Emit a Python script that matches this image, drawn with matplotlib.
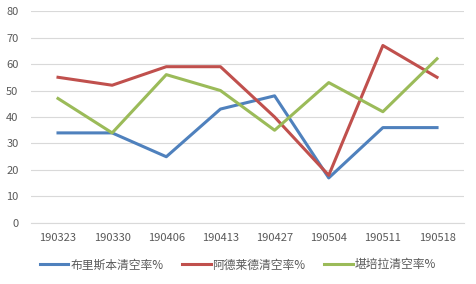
import matplotlib
matplotlib.use("Agg")
import matplotlib.pyplot as plt

plt.rcParams['font.family'] = ['Noto Sans CJK SC', 'DejaVu Sans']

categories = ["190323", "190330", "190406", "190413", "190427", "190504", "190511", "190518"]
brisbane = [34, 34, 25, 43, 48, 17, 36, 36]
adelaide = [55, 52, 59, 59, 40, 18, 67, 55]
canberra = [47, 34, 56, 50, 35, 53, 42, 62]
series_names = ["布里斯本清空率%", "阿德莱德清空率%", "堪培拉清空率%"]
colors = ["#4F81BD", "#C0504D", "#9BBB59"]

fig = plt.figure(figsize=(4.76, 2.84), dpi=100)
ax = fig.add_axes([0.065, 0.215, 0.91, 0.746])

x = list(range(len(categories)))
for vals, name, c in zip([brisbane, adelaide, canberra], series_names, colors):
    ax.plot(x, vals, color=c, linewidth=2.2, label=name, solid_joinstyle='round')

ax.set_xlim(-0.5, len(categories) - 0.5)
ax.set_ylim(0, 80)
ax.set_yticks(range(0, 81, 10))
ax.set_xticks(x)
ax.set_xticklabels(categories)
ax.grid(axis='y', color='#d9d9d9', linewidth=0.8)
ax.set_axisbelow(True)
for s in ['top', 'right', 'left']:
    ax.spines[s].set_visible(False)
ax.spines['bottom'].set_color('#d9d9d9')
ax.tick_params(axis='both', length=0, labelsize=8, colors='#595959', pad=7)
ax.tick_params(axis='y', pad=9)

leg = fig.legend(loc='center', bbox_to_anchor=(0.5, 0.067), ncol=3, frameon=False,
                 fontsize=8.5, handlelength=2.4, columnspacing=1.6, handletextpad=0.15)
for t in leg.get_texts():
    t.set_color('#595959')

fig.savefig("out.png", dpi=100)
